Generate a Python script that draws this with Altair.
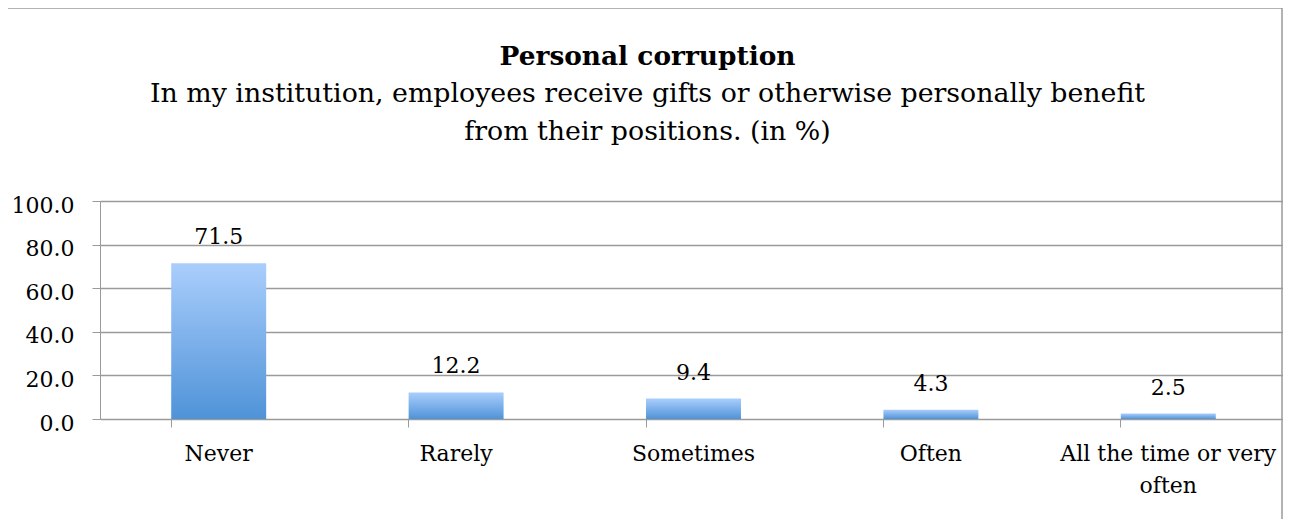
import altair as alt
import pandas as pd

categories = ["Never", "Rarely", "Sometimes", "Often", "All the time or very often"]
values = [71.5, 12.2, 9.4, 4.3, 2.5]
y_ticks = [0, 20, 40, 60, 80, 100]

title_text = "Personal corruption"
subtitle_lines = [
    "In my institution, employees receive gifts or otherwise personally benefit",
    "from their positions. (in %)",
]

df = pd.DataFrame({"category": categories, "value": values})

FONT = "DejaVu Serif"
GRAY = "#9a9a9a"

x_enc = alt.X(
    "category:N",
    sort=categories,
    scale=alt.Scale(range=[0, 1187], paddingInner=0.6, paddingOuter=0.3),
    axis=alt.Axis(
        title=None,
        labelAngle=0,
        labelFont=FONT,
        labelFontSize=22,
        labelColor="black",
        labelPadding=16,
        labelLimit=400,
        bandPosition=0,
        tickSize=8,
        tickColor=GRAY,
        domainColor=GRAY,
        grid=False,
        labelExpr="datum.label == 'All the time or very often' ? ['All the time or very', 'often'] : datum.label",
        labelLineHeight=32,
    ),
)

y_enc = alt.Y(
    "value:Q",
    scale=alt.Scale(domain=[0, 100]),
    axis=alt.Axis(
        title=None,
        values=y_ticks,
        format=".1f",
        labelFont=FONT,
        labelFontSize=22,
        labelColor="black",
        labelPadding=18,
        labelOffset=4,
        tickSize=8,
        tickColor=GRAY,
        domainColor=GRAY,
        gridColor=GRAY,
        gridWidth=1.5,
    ),
)

gradient = alt.Gradient(
    gradient="linear",
    x1=0, x2=0, y1=0, y2=1,
    stops=[
        alt.GradientStop(offset=0, color="#aacefc"),
        alt.GradientStop(offset=1, color="#4f93d8"),
    ],
)

base = alt.Chart(df)

bars = base.mark_bar(color=gradient).encode(x=x_enc, y=y_enc)

labels = base.mark_text(
    font=FONT, fontSize=22, color="black", baseline="alphabetic", dy=-19
).encode(
    x=alt.X("category:N", sort=categories),
    y="value:Q",
    text=alt.Text("value:Q", format=".1f"),
)

one = pd.DataFrame({"t": [title_text]})

border = alt.Chart(one).mark_rect(fill=None, stroke=GRAY, strokeWidth=1.5).encode(
    x=alt.value(-93), x2=alt.value(1182), y=alt.value(-193), y2=alt.value(340)
)

title_mark = alt.Chart(one).mark_text(
    font=FONT, fontSize=26.4, fontWeight="bold", color="black",
    align="center", baseline="alphabetic",
).encode(x=alt.value(547.5), y=alt.value(-136), text=alt.value(title_text))

sub1 = alt.Chart(one).mark_text(
    font=FONT, fontSize=26.8, color="black", align="center", baseline="alphabetic",
).encode(x=alt.value(547.5), y=alt.value(-99), text=alt.value(subtitle_lines[0]))

sub2 = alt.Chart(one).mark_text(
    font=FONT, fontSize=26.8, color="black", align="center", baseline="alphabetic",
).encode(x=alt.value(547.5), y=alt.value(-61), text=alt.value(subtitle_lines[1]))

chart = (
    alt.layer(border, title_mark, sub1, sub2, bars, labels)
    .properties(
        width=1183,
        height=218,
        autosize=alt.AutoSizeParams(type="none"),
        padding={"left": 92, "top": 193, "right": 0, "bottom": 100},
    )
    .configure_view(stroke=None)
)

chart.save("out.html", embed_options={"renderer": "svg", "actions": False})
